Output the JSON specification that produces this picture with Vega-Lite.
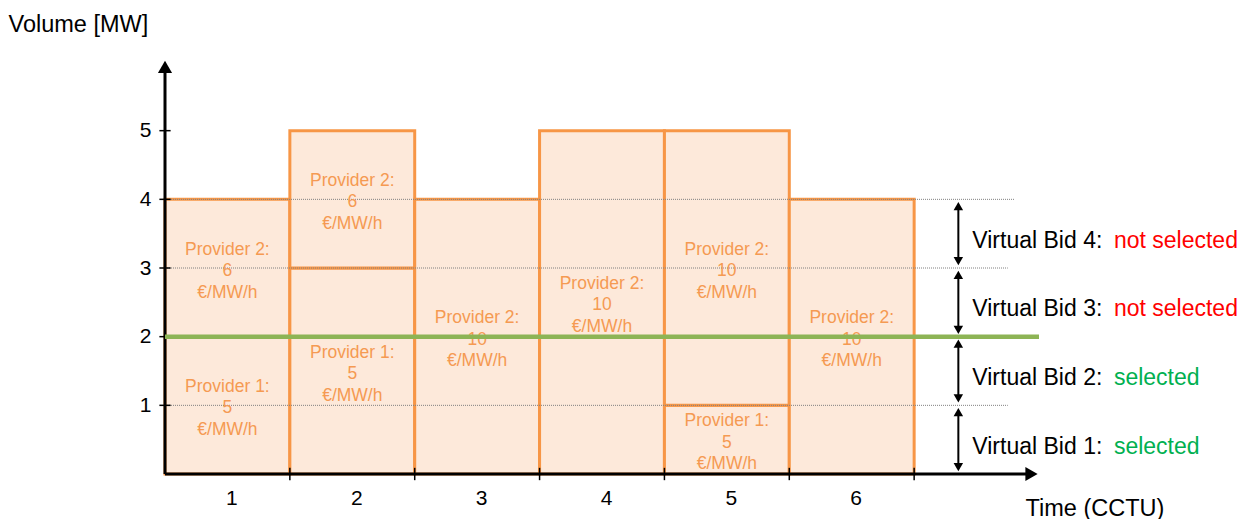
{
  "$schema": "https://vega.github.io/schema/vega-lite/v6.json",
  "width": 874,
  "height": 412,
  "autosize": {"type": "none"},
  "padding": {"left": 165, "top": 62, "right": 220, "bottom": 45},
  "background": "white",
  "config": {"view": {"stroke": null}, "font": "Liberation Sans"},
  "datasets": {
    "bars": [
      {"x": 0, "x2": 1, "y": 0, "y2": 2, "provider": "Provider 1"},
      {"x": 0, "x2": 1, "y": 2, "y2": 4, "provider": "Provider 2"},
      {"x": 1, "x2": 2, "y": 0, "y2": 3, "provider": "Provider 1"},
      {"x": 1, "x2": 2, "y": 3, "y2": 5, "provider": "Provider 2"},
      {"x": 2, "x2": 3, "y": 0, "y2": 4, "provider": "Provider 2"},
      {"x": 3, "x2": 4, "y": 0, "y2": 5, "provider": "Provider 2"},
      {"x": 4, "x2": 5, "y": 0, "y2": 1, "provider": "Provider 1"},
      {"x": 4, "x2": 5, "y": 1, "y2": 5, "provider": "Provider 2"},
      {"x": 5, "x2": 6, "y": 0, "y2": 4, "provider": "Provider 2"}
    ],
    "labels": [
      {"x": 0.5, "y": 1, "label": "Provider 1:\n5\n€/MW/h"},
      {"x": 0.5, "y": 3, "label": "Provider 2:\n6\n€/MW/h"},
      {"x": 1.5, "y": 1.5, "label": "Provider 1:\n5\n€/MW/h"},
      {"x": 1.5, "y": 4, "label": "Provider 2:\n6\n€/MW/h"},
      {"x": 2.5, "y": 2, "label": "Provider 2:\n10\n€/MW/h"},
      {"x": 3.5, "y": 2.5, "label": "Provider 2:\n10\n€/MW/h"},
      {"x": 4.5, "y": 0.5, "label": "Provider 1:\n5\n€/MW/h"},
      {"x": 4.5, "y": 3, "label": "Provider 2:\n10\n€/MW/h"},
      {"x": 5.5, "y": 2, "label": "Provider 2:\n10\n€/MW/h"}
    ],
    "grid": [
      {"x": 0, "x2": 6.75, "y": 1, "y2": 1},
      {"x": 0, "x2": 6.75, "y": 2, "y2": 2},
      {"x": 0, "x2": 6.75, "y": 3, "y2": 3},
      {"x": 0, "x2": 6.8, "y": 4, "y2": 4}
    ],
    "axislines": [
      {"x": 0, "x2": 0, "y": 0, "y2": 5.9},
      {"x": 0, "x2": 6.9, "y": 0, "y2": 0}
    ],
    "ticks": [
      {"x": -0.045, "x2": 0.045, "y": 1, "y2": 1},
      {"x": -0.045, "x2": 0.045, "y": 2, "y2": 2},
      {"x": -0.045, "x2": 0.045, "y": 3, "y2": 3},
      {"x": -0.045, "x2": 0.045, "y": 4, "y2": 4},
      {"x": -0.045, "x2": 0.045, "y": 5, "y2": 5},
      {"x": 1, "x2": 1, "y": -0.09, "y2": 0.09},
      {"x": 2, "x2": 2, "y": -0.09, "y2": 0.09},
      {"x": 3, "x2": 3, "y": -0.09, "y2": 0.09},
      {"x": 4, "x2": 4, "y": -0.09, "y2": 0.09},
      {"x": 5, "x2": 5, "y": -0.09, "y2": 0.09},
      {"x": 6, "x2": 6, "y": -0.09, "y2": 0.09}
    ],
    "heads": [
      {"x": 0, "y": 5.93, "dir": "up"},
      {"x": 6.94, "y": 0, "dir": "right"}
    ],
    "bidrules": [
      {"x": 6.354, "x2": 6.354, "y": 0.08, "y2": 0.92},
      {"x": 6.354, "x2": 6.354, "y": 1.08, "y2": 1.92},
      {"x": 6.354, "x2": 6.354, "y": 2.08, "y2": 2.92},
      {"x": 6.354, "x2": 6.354, "y": 3.08, "y2": 3.92}
    ],
    "bidheads": [
      {"x": 6.354, "y": 0.1, "dir": "down"},
      {"x": 6.354, "y": 0.9, "dir": "up"},
      {"x": 6.354, "y": 1.1, "dir": "down"},
      {"x": 6.354, "y": 1.9, "dir": "up"},
      {"x": 6.354, "y": 2.1, "dir": "down"},
      {"x": 6.354, "y": 2.9, "dir": "up"},
      {"x": 6.354, "y": 3.1, "dir": "down"},
      {"x": 6.354, "y": 3.9, "dir": "up"}
    ],
    "bidtext": [
      {"x": 6.466, "y": 0.5, "label": "Virtual Bid 1:"},
      {"x": 6.466, "y": 1.5, "label": "Virtual Bid 2:"},
      {"x": 6.466, "y": 2.5, "label": "Virtual Bid 3:"},
      {"x": 6.466, "y": 3.5, "label": "Virtual Bid 4:"}
    ],
    "bidstatus": [
      {"x": 7.6, "y": 0.5, "status": "selected"},
      {"x": 7.6, "y": 1.5, "status": "selected"},
      {"x": 7.6, "y": 2.5, "status": "not selected"},
      {"x": 7.6, "y": 3.5, "status": "not selected"}
    ],
    "cutoff": [
      {"x": 0, "x2": 7.0, "y": 2, "y2": 2}
    ]
  },
  "encoding": {
    "x": {
      "field": "x",
      "type": "quantitative",
      "scale": {"domain": [0, 7], "nice": false, "zero": false},
      "axis": {
        "values": [0.5, 1.5, 2.5, 3.5, 4.5, 5.5],
        "labelExpr": "datum.value + 0.5",
        "ticks": false,
        "domain": false,
        "grid": false,
        "labelFlush": false,
        "labelFontSize": 21,
        "labelColor": "black",
        "labelPadding": 13,
        "labelOffset": 4,
        "title": "Time (CCTU)",
        "titleFontSize": 23.5,
        "titleFontWeight": "normal",
        "titleColor": "black",
        "titleAlign": "left",
        "titleAnchor": null,
        "titleX": 860,
        "titleY": 34,
        "titleBaseline": "middle"
      }
    },
    "y": {
      "field": "y",
      "type": "quantitative",
      "scale": {"domain": [0, 6], "nice": false, "zero": false},
      "axis": {
        "values": [1, 2, 3, 4, 5],
        "ticks": false,
        "domain": false,
        "grid": false,
        "labelFontSize": 21,
        "labelColor": "black",
        "labelPadding": 14,
        "title": "Volume [MW]",
        "titleAngle": 0,
        "titleFontSize": 23.5,
        "titleFontWeight": "normal",
        "titleColor": "black",
        "titleAlign": "left",
        "titleAnchor": null,
        "titleX": -157,
        "titleY": -38,
        "titleBaseline": "middle"
      }
    }
  },
  "layer": [
    {
      "data": {"name": "bars"},
      "mark": {"type": "rect", "fill": "#FDE9DA", "stroke": "#F79646", "strokeWidth": 3},
      "encoding": {"x2": {"field": "x2"}, "y2": {"field": "y2"}}
    },
    {
      "data": {"name": "grid"},
      "mark": {"type": "rule", "stroke": "#808080", "strokeWidth": 1, "strokeDash": [1, 1]},
      "encoding": {"x2": {"field": "x2"}, "y2": {"field": "y2"}}
    },
    {
      "data": {"name": "labels"},
      "mark": {"type": "text", "color": "#F59A52", "fontSize": 17.5, "lineBreak": "\n", "lineHeight": 21.5, "baseline": "middle", "align": "center", "dy": -18.5},
      "encoding": {"text": {"field": "label"}}
    },
    {
      "data": {"name": "axislines"},
      "mark": {"type": "rule", "stroke": "black", "strokeWidth": 3},
      "encoding": {"x2": {"field": "x2"}, "y2": {"field": "y2"}}
    },
    {
      "data": {"name": "ticks"},
      "mark": {"type": "rule", "stroke": "black", "strokeWidth": 1.5},
      "encoding": {"x2": {"field": "x2"}, "y2": {"field": "y2"}}
    },
    {
      "data": {"name": "heads"},
      "mark": {"type": "point", "filled": true, "color": "black", "size": 200, "opacity": 1},
      "encoding": {
        "shape": {"field": "dir", "type": "nominal", "scale": {"domain": ["up", "right", "down"], "range": ["triangle-up", "triangle-right", "triangle-down"]}, "legend": null}
      }
    },
    {
      "data": {"name": "bidrules"},
      "mark": {"type": "rule", "stroke": "black", "strokeWidth": 2},
      "encoding": {"x2": {"field": "x2"}, "y2": {"field": "y2"}}
    },
    {
      "data": {"name": "bidheads"},
      "mark": {"type": "point", "filled": true, "color": "black", "size": 90, "opacity": 1},
      "encoding": {
        "shape": {"field": "dir", "type": "nominal", "scale": {"domain": ["up", "right", "down"], "range": ["triangle-up", "triangle-right", "triangle-down"]}, "legend": null}
      }
    },
    {
      "data": {"name": "bidtext"},
      "mark": {"type": "text", "color": "black", "fontSize": 23, "align": "left", "baseline": "middle", "dy": 7},
      "encoding": {"text": {"field": "label"}}
    },
    {
      "data": {"name": "bidstatus"},
      "mark": {"type": "text", "fontSize": 23, "align": "left", "baseline": "middle", "dy": 7},
      "encoding": {
        "text": {"field": "status"},
        "color": {"field": "status", "type": "nominal", "scale": {"domain": ["not selected", "selected"], "range": ["#FF0000", "#00B050"]}, "legend": null}
      }
    },
    {
      "data": {"name": "cutoff"},
      "mark": {"type": "rule", "stroke": "#8DB455", "strokeWidth": 4.5},
      "encoding": {"x2": {"field": "x2"}, "y2": {"field": "y2"}}
    }
  ]
}
